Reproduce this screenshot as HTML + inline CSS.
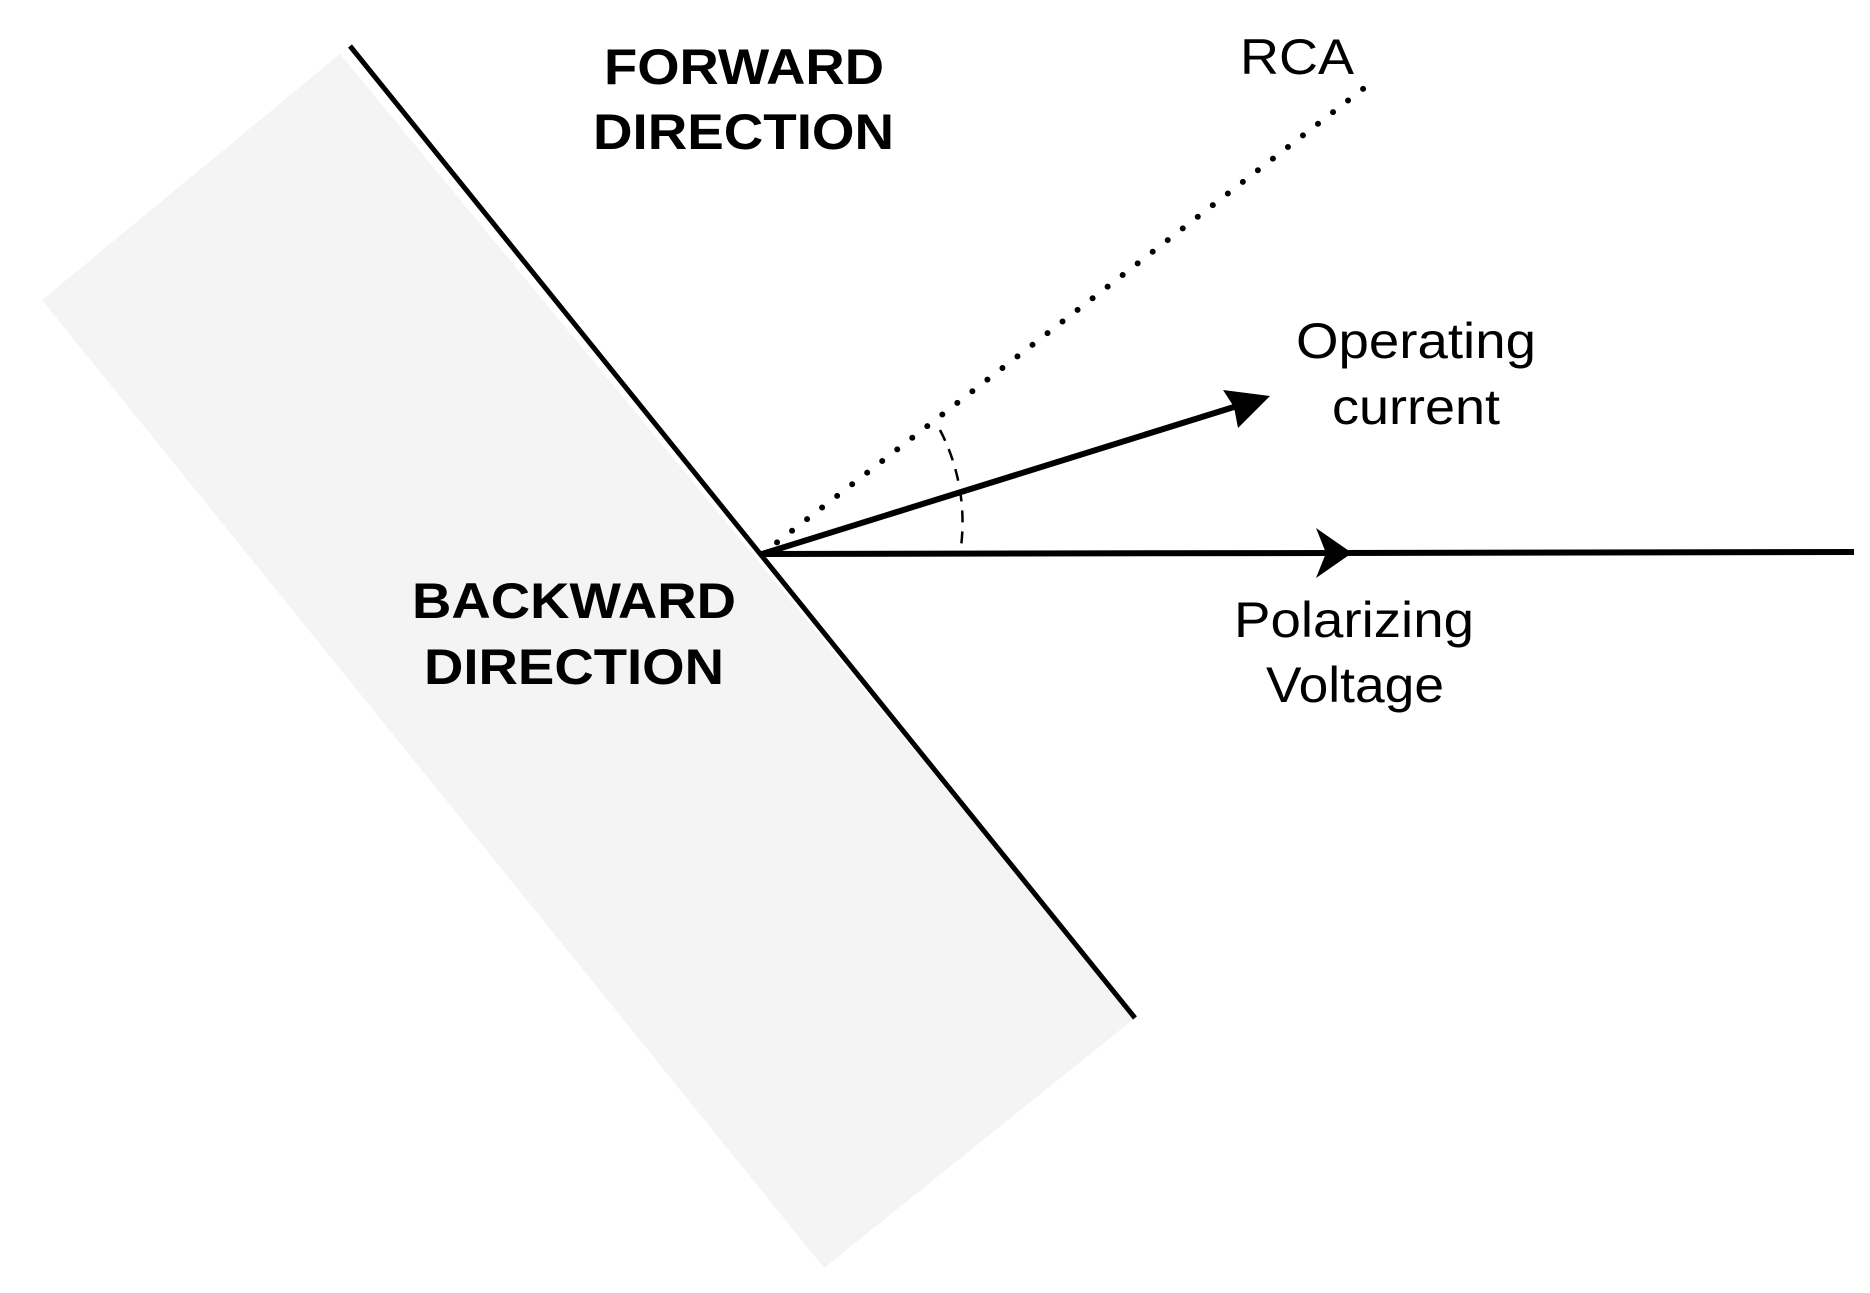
<!DOCTYPE html>
<html><head><meta charset="utf-8"><style>html,body{margin:0;padding:0;background:#fff}</style></head>
<body>
<svg width="1870" height="1288" viewBox="0 0 1870 1288" xmlns="http://www.w3.org/2000/svg">
<polygon points="340,54 42,300 824,1268 1135,1018" fill="#f4f4f4"/>
<line x1="350" y1="46" x2="1135" y2="1018" stroke="#000" stroke-width="5"/>
<line x1="762" y1="554" x2="1372" y2="82" stroke="#000" stroke-width="6" stroke-dasharray="0 19" stroke-linecap="round"/>
<path d="M 940 430 A 200 200 0 0 1 960 554" fill="none" stroke="#000" stroke-width="2.5" stroke-dasharray="12 9"/>
<line x1="762" y1="554" x2="1854" y2="552" stroke="#000" stroke-width="6"/>
<polygon points="1352,553 1316,528 1326,553 1316,578" fill="#000"/>
<line x1="762" y1="554" x2="1250" y2="402" stroke="#000" stroke-width="6"/>
<polygon points="1270,396 1223,390 1234,407 1238,428" fill="#000"/>
<g font-family="Liberation Sans, sans-serif" font-size="50" fill="#000">
<text x="604" y="84" font-weight="bold" textLength="280" lengthAdjust="spacingAndGlyphs">FORWARD</text>
<text x="593" y="149" font-weight="bold" textLength="301" lengthAdjust="spacingAndGlyphs">DIRECTION</text>
<text x="412" y="618" font-weight="bold" textLength="324" lengthAdjust="spacingAndGlyphs">BACKWARD</text>
<text x="424" y="684" font-weight="bold" textLength="300" lengthAdjust="spacingAndGlyphs">DIRECTION</text>
<text x="1240" y="74" textLength="114" lengthAdjust="spacingAndGlyphs">RCA</text>
<text x="1296" y="358" textLength="240" lengthAdjust="spacingAndGlyphs">Operating</text>
<text x="1332" y="424" textLength="168" lengthAdjust="spacingAndGlyphs">current</text>
<text x="1234" y="637" textLength="240" lengthAdjust="spacingAndGlyphs">Polarizing</text>
<text x="1266" y="702" textLength="178" lengthAdjust="spacingAndGlyphs">Voltage</text>
</g>
</svg>
</body></html>
